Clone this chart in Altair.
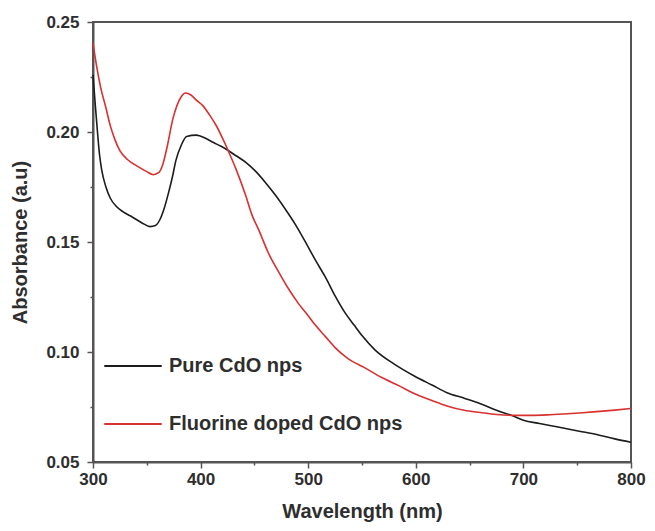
import altair as alt
import pandas as pd

# Pure CdO nps
black_wl = [300, 302, 304, 306, 308, 312, 316, 322, 328, 335, 341, 348, 353, 358, 362, 366, 370, 374, 377,
            382, 387, 396, 405, 412, 419, 426, 433, 442, 451, 460, 470, 480, 488, 498, 507, 516, 525, 534,
            543, 550, 562, 580, 599, 615, 629, 645, 660, 675, 690, 700, 715, 731, 752, 768, 785, 800]
black_abs = [0.226, 0.213, 0.201, 0.190, 0.183, 0.175, 0.170, 0.166, 0.1637, 0.1618, 0.160, 0.158, 0.157,
             0.1575, 0.160, 0.165, 0.172, 0.180, 0.187, 0.194, 0.198, 0.1986, 0.197, 0.1952, 0.1935, 0.1915,
             0.1892, 0.1862, 0.1822, 0.1772, 0.171, 0.164, 0.158, 0.1495, 0.1415, 0.134, 0.1255, 0.118,
             0.112, 0.1075, 0.101, 0.0945, 0.089, 0.085, 0.0815, 0.079, 0.0765, 0.0735, 0.071, 0.069,
             0.0675, 0.066, 0.064, 0.0625, 0.0605, 0.059]

# Fluorine doped CdO nps
red_wl = [300, 303, 307, 312, 316, 320, 325, 332, 341, 350, 356, 361, 365, 369, 374, 378, 382, 386, 391, 396,
          402, 408, 415, 421, 427, 433, 442, 448, 454, 463, 473, 482, 491, 500, 507, 516, 525, 537, 552, 568,
          585, 599, 615, 629, 645, 660, 675, 691, 707, 722, 737, 752, 768, 785, 800]
red_abs = [0.2405, 0.231, 0.2205, 0.211, 0.203, 0.197, 0.1915, 0.1875, 0.1845, 0.182, 0.1806, 0.1815, 0.1855,
           0.1935, 0.2055, 0.212, 0.216, 0.2177, 0.2168, 0.2145, 0.212, 0.208, 0.2025, 0.1965, 0.190, 0.183,
           0.171, 0.162, 0.1555, 0.145, 0.136, 0.1285, 0.122, 0.1165, 0.112, 0.107, 0.102, 0.097, 0.093,
           0.0885, 0.0845, 0.081, 0.078, 0.0755, 0.0735, 0.0725, 0.0716, 0.0712, 0.0712, 0.0714, 0.0718,
           0.0723, 0.0729, 0.0736, 0.0743]

series_names = ["Pure CdO nps", "Fluorine doped CdO nps"]
series_colors = ["#1c1c1c", "#d93030"]

x_ticks = [300, 350, 400, 450, 500, 550, 600, 650, 700, 750, 800]
y_ticks = [0.05, 0.075, 0.10, 0.125, 0.15, 0.175, 0.20, 0.225, 0.25]

df = pd.concat([
    pd.DataFrame({"wl": black_wl, "abs": black_abs, "series": series_names[0], "order": range(len(black_wl))}),
    pd.DataFrame({"wl": red_wl, "abs": red_abs, "series": series_names[1], "order": range(len(red_wl))}),
])

FONT = "Liberation Sans"
AXC = "#555555"
TXT = "#2e2e2e"

chart = alt.Chart(df).mark_line(strokeWidth=1.6, interpolate="monotone").encode(
    x=alt.X("wl:Q", title="Wavelength (nm)",
            scale=alt.Scale(domain=[300, 800], nice=False, zero=False),
            axis=alt.Axis(values=x_ticks, format="d", labelFlush=False,
                          labelExpr="datum.value % 100 == 0 ? datum.label : ''",
                          tickSize={"condition": {"test": "datum.value % 100 != 0", "value": 3}, "value": 6},
                          labelPadding=3, titlePadding=14)),
    y=alt.Y("abs:Q", title="Absorbance (a.u)",
            scale=alt.Scale(domain=[0.05, 0.25], nice=False, zero=False),
            axis=alt.Axis(values=y_ticks, format=".2f", labelFlush=False,
                          labelExpr="round(datum.value * 1000) % 50 == 0 ? datum.label : ''",
                          tickSize={"condition": {"test": "round(datum.value * 1000) % 50 != 0", "value": 3}, "value": 6},
                          labelPadding=8, titlePadding=15)),
    color=alt.Color("series:N", scale=alt.Scale(domain=series_names, range=series_colors),
                    legend=alt.Legend(title=None, orient="none", legendX=10, legendY=314,
                                      symbolType="stroke", symbolSize=3300, symbolStrokeWidth=2,
                                      labelFontSize=20, labelFont=FONT, labelFontWeight="bold",
                                      labelColor=TXT, labelOffset=6, rowPadding=18, labelLimit=400)),
    order="order:Q",
).properties(
    width=538, height=440,
    padding={"left": 85, "top": 14, "right": 16, "bottom": 61},
    autosize=alt.AutoSizeParams(type="none"),
).configure_view(
    stroke=AXC, strokeWidth=2,
).configure_axis(
    domainColor=AXC, domainWidth=2, tickColor=AXC, tickWidth=1.5, grid=False,
    labelFont=FONT, labelFontSize=17, labelFontWeight="bold", labelColor=TXT,
    titleFont=FONT, titleFontSize=20, titleFontWeight="bold", titleColor=TXT,
)

chart.save("out.html", embed_options={"renderer": "svg", "actions": False})
